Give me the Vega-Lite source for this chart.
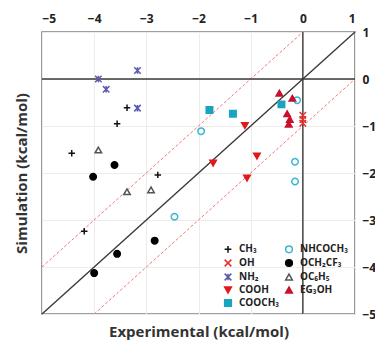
{
  "$schema": "https://vega.github.io/schema/vega-lite/v6.json",
  "width": 313,
  "height": 282,
  "autosize": {"type": "none"},
  "padding": {"left": 42, "top": 32, "right": 20, "bottom": 32},
  "background": "white",
  "config": {
    "view": {"stroke": "#808080", "strokeWidth": 1.6},
    "font": "Open Sans",
    "axis": {"labelFont": "Open Sans", "titleFont": "Open Sans", "labelColor": "#222", "titleColor": "#333", "gridColor": "#ececec", "gridWidth": 1},
    "legend": {"labelFont": "Open Sans"}
  },
  "datasets": {
    "blackLines": [
      {"x": -5, "y": -5, "x2": 1, "y2": 1},
      {"x": -5, "y": 0, "x2": 1, "y2": 0},
      {"x": 0, "y": -5, "x2": 0, "y2": 1}
    ],
    "redLines": [
      {"x": -5, "y": -4, "x2": 0, "y2": 1},
      {"x": -4, "y": -5, "x2": 1, "y2": 0}
    ],
    "pts": [
      {"group": "CH₃", "exp": -3.37, "sim": -0.61},
      {"group": "CH₃", "exp": -3.56, "sim": -0.95},
      {"group": "CH₃", "exp": -4.43, "sim": -1.58},
      {"group": "CH₃", "exp": -2.78, "sim": -2.04},
      {"group": "CH₃", "exp": -4.19, "sim": -3.24},
      {"group": "OH", "exp": 0, "sim": -0.77},
      {"group": "OH", "exp": 0, "sim": -0.86},
      {"group": "OH", "exp": 0, "sim": -0.94},
      {"group": "NH₂", "exp": -3.17, "sim": 0.18},
      {"group": "NH₂", "exp": -3.92, "sim": 0.0},
      {"group": "NH₂", "exp": -3.77, "sim": -0.22},
      {"group": "NH₂", "exp": -3.17, "sim": -0.62},
      {"group": "COOH", "exp": -1.11, "sim": -0.99},
      {"group": "COOH", "exp": -1.72, "sim": -1.79},
      {"group": "COOH", "exp": -0.88, "sim": -1.64},
      {"group": "COOH", "exp": -1.07, "sim": -2.11},
      {"group": "COOCH₃", "exp": -1.79, "sim": -0.66},
      {"group": "COOCH₃", "exp": -1.34, "sim": -0.74},
      {"group": "COOCH₃", "exp": -0.41, "sim": -0.54},
      {"group": "NHCOCH₃", "exp": -0.11, "sim": -0.45},
      {"group": "NHCOCH₃", "exp": -1.95, "sim": -1.11},
      {"group": "NHCOCH₃", "exp": -0.15, "sim": -1.76},
      {"group": "NHCOCH₃", "exp": -0.15, "sim": -2.18},
      {"group": "NHCOCH₃", "exp": -2.46, "sim": -2.93},
      {"group": "OCH₂CF₃", "exp": -3.61, "sim": -1.83},
      {"group": "OCH₂CF₃", "exp": -4.02, "sim": -2.08},
      {"group": "OCH₂CF₃", "exp": -2.84, "sim": -3.44},
      {"group": "OCH₂CF₃", "exp": -3.56, "sim": -3.72},
      {"group": "OCH₂CF₃", "exp": -4.0, "sim": -4.13},
      {"group": "OC₆H₅", "exp": -3.92, "sim": -1.51},
      {"group": "OC₆H₅", "exp": -3.37, "sim": -2.40},
      {"group": "OC₆H₅", "exp": -2.91, "sim": -2.36},
      {"group": "EG₃OH", "exp": -0.45, "sim": -0.30},
      {"group": "EG₃OH", "exp": -0.20, "sim": -0.41},
      {"group": "EG₃OH", "exp": -0.30, "sim": -0.74},
      {"group": "EG₃OH", "exp": -0.25, "sim": -0.86},
      {"group": "EG₃OH", "exp": -0.27, "sim": -0.96}
    ]
  },
  "resolve": {"axis": {"x": "independent", "y": "independent"}},
  "layer": [
    {
      "data": {"name": "redLines"},
      "mark": {"type": "rule", "color": "#ec7a7a", "strokeWidth": 1, "strokeDash": [3, 2]},
      "encoding": {
        "x": {"field": "x", "type": "quantitative", "scale": {"domain": [-5, 1], "nice": false, "zero": false},
          "axis": {"orient": "top", "title": null, "values": [-5, -4, -3, -2, -1, 0, 1], "labelFontSize": 12, "labelFontWeight": "bold", "ticks": false, "domain": false, "labelPadding": 7, "grid": true}},
        "y": {"field": "y", "type": "quantitative", "scale": {"domain": [-5, 1], "nice": false, "zero": false},
          "axis": {"orient": "right", "title": null, "values": [-5, -4, -3, -2, -1, 0, 1], "labelFontSize": 12, "labelFontWeight": "bold", "ticks": false, "domain": false, "labelPadding": 7, "grid": true}},
        "x2": {"field": "x2"},
        "y2": {"field": "y2"}
      }
    },
    {
      "data": {"name": "blackLines"},
      "mark": {"type": "rule", "color": "#3a3a3a", "strokeWidth": 1.4},
      "encoding": {
        "x": {"field": "x", "type": "quantitative",
          "axis": {"orient": "bottom", "title": "Experimental (kcal/mol)", "titleFontSize": 15, "titleFontWeight": "bold", "labels": false, "ticks": false, "domain": false, "grid": false, "titlePadding": 10}},
        "y": {"field": "y", "type": "quantitative",
          "axis": {"orient": "left", "title": "Simulation (kcal/mol)", "titleFontSize": 15, "titleFontWeight": "bold", "labels": false, "ticks": false, "domain": false, "grid": false, "titlePadding": 13}},
        "x2": {"field": "x2"},
        "y2": {"field": "y2"}
      }
    },
    {
      "data": {"name": "pts"},
      "mark": {"type": "point", "size": 42, "strokeWidth": 1.5, "opacity": 1},
      "encoding": {
        "x": {"field": "exp", "type": "quantitative", "axis": null},
        "y": {"field": "sim", "type": "quantitative", "axis": null},
        "shape": {"field": "group", "type": "nominal",
          "scale": {"domain": ["CH₃", "OH", "NH₂", "COOH", "COOCH₃", "NHCOCH₃", "OCH₂CF₃", "OC₆H₅", "EG₃OH"],
            "range": ["M-1,0H1M0,-1V1", "M-1,-1L1,1M-1,1L1,-1", "M-1,-1L1,1M-1,1L1,-1M0,-1V1", "triangle-down", "square", "circle", "circle", "triangle-up", "triangle-up"]},
          "legend": {"title": null, "orient": "none", "legendX": 181, "legendY": 212, "columns": 2, "direction": "vertical", "labelFontSize": 10, "labelFontWeight": "bold", "labelColor": "#222", "symbolSize": 45, "symbolStrokeWidth": 1.5, "rowPadding": 0, "columnPadding": 2, "labelOffset": 6, "padding": 0}},
        "stroke": {"field": "group", "type": "nominal",
          "scale": {"domain": ["CH₃", "OH", "NH₂", "COOH", "COOCH₃", "NHCOCH₃", "OCH₂CF₃", "OC₆H₅", "EG₃OH"],
            "range": ["#111111", "#e8302a", "#5a5ab0", "#e0191c", "#19a4bf", "#3ab6d4", "#000000", "#555555", "#c8102e"]},
          "legend": {"title": null}},
        "fill": {"field": "group", "type": "nominal",
          "scale": {"domain": ["CH₃", "OH", "NH₂", "COOH", "COOCH₃", "NHCOCH₃", "OCH₂CF₃", "OC₆H₅", "EG₃OH"],
            "range": ["transparent", "transparent", "transparent", "#e0191c", "#19a4bf", "white", "#000000", "white", "#c8102e"]},
          "legend": {"title": null}}
      }
    }
  ]
}
